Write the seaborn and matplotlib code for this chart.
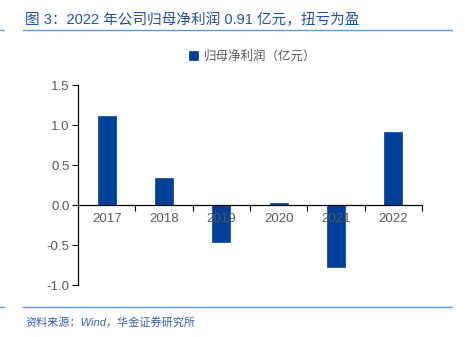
import matplotlib
matplotlib.use("Agg")
import matplotlib.pyplot as plt
from matplotlib.lines import Line2D
from matplotlib.ticker import FixedLocator, NullFormatter
import seaborn as sns
import pandas as pd

years = ["2017", "2018", "2019", "2020", "2021", "2022"]
profit = [1.11, 0.34, -0.46, 0.02, -0.78, 0.91]
series_name = "归母净利润（亿元）"
title = "图 3：2022 年公司归母净利润 0.91 亿元，扭亏为盈"
source = "资料来源：Wind，华金证券研究所"
y_ticks = [-1.0, -0.5, 0.0, 0.5, 1.0, 1.5]

sns.set_style("white")
plt.rcParams['font.family'] = ['Liberation Sans', 'Noto Sans CJK SC', 'DejaVu Sans']
plt.rcParams['axes.unicode_minus'] = False

df = pd.DataFrame({"year": years, "value": profit, "series": series_name})

fig = plt.figure(figsize=(4.65, 3.37), dpi=100)
ax = fig.add_axes([78/465, 1 - 285/337, (422-78)/465, (285-85)/337])

bar_color = "#003f98"
sns.barplot(data=df, x="year", y="value", hue="series", palette=[bar_color],
            saturation=1, width=0.31, ax=ax, legend=True,
            edgecolor=bar_color, linewidth=0.5)
for p in ax.patches:
    p.set_zorder(1)

ax.set_ylim(-1.0, 1.5)
ax.set_xlim(-0.5, 5.5)
ax.set_yticks(y_ticks)
ax.set_yticklabels([f"{t:.1f}" for t in y_ticks])
ax.set_xlabel("")
ax.set_ylabel("")

for s in ["top", "right"]:
    ax.spines[s].set_visible(False)
ax.spines["bottom"].set_position(("data", 0))
for s in ["left", "bottom"]:
    ax.spines[s].set_color("black")
    ax.spines[s].set_linewidth(0.9)

ax.tick_params(axis="y", which="major", direction="out", length=4, width=0.8,
               color="black", labelsize=9.5, labelcolor="#595959", pad=2, left=True)
ax.tick_params(axis="x", which="major", length=0, labelsize=9.5,
               labelcolor="#595959", pad=6)
ax.xaxis.set_minor_locator(FixedLocator([0.5, 1.5, 2.5, 3.5, 4.5, 5.5]))
ax.xaxis.set_minor_formatter(NullFormatter())
ax.tick_params(axis="x", which="minor", direction="out", length=4, width=0.8,
               color="black", bottom=True)
ax.xaxis.set_zorder(3)
ax.yaxis.set_zorder(3)

leg = ax.get_legend()
handles, labels = ax.get_legend_handles_labels()
leg.remove()
fig.legend(handles, labels, loc="center", bbox_to_anchor=(253/465, 1 - 57/337),
           frameon=False, fontsize=9, handlelength=0.7, handleheight=0.7,
           handletextpad=0.5, labelcolor="#595959")

title_color = "#24509a"
line_color = "#5b9bd5"
fig.text(25/465, 1 - 20/337, title, fontsize=10.5, color=title_color,
         va="center", ha="left")
for yy in (30, 307):
    yf = 1 - yy/337
    fig.add_artist(Line2D([23/465, 452/465], [yf, yf], color=line_color, lw=1.0))
    fig.add_artist(Line2D([0, 4/465], [yf, yf], color=line_color, lw=1.0))

fig.text(25/465, 1 - 322/337, source, fontsize=8, color="#3a5f9f",
         va="center", ha="left", style="italic")

fig.savefig("out.png", dpi=100)
